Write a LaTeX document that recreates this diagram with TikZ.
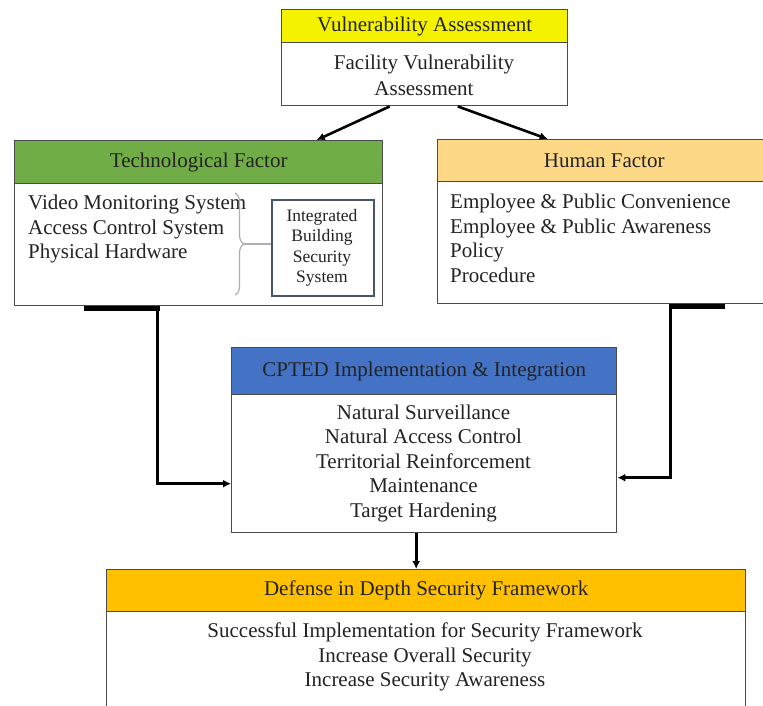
\documentclass[tikz,border=0pt]{standalone}
\usepackage{fontspec}
\setmainfont{Liberation Serif}
\usetikzlibrary{arrows.meta,decorations.pathreplacing}
\definecolor{cYellow}{RGB}{245,242,0}
\definecolor{cGreen}{RGB}{112,173,71}
\definecolor{cHuman}{RGB}{253,216,135}
\definecolor{cBlue}{RGB}{68,114,196}
\definecolor{cGold}{RGB}{255,192,0}
\definecolor{cBorder}{RGB}{75,75,75}
\definecolor{cText}{RGB}{35,35,35}
\definecolor{cIBS}{RGB}{70,85,110}
\definecolor{cBrace}{RGB}{175,175,175}
\begin{document}
\begin{tikzpicture}[x=1pt,y=-1pt,
  box/.style={draw=cBorder, line width=1.4pt, inner sep=0pt, anchor=north west},
  hdr/.style={box, font=\fontsize{21}{24.5}\selectfont, text=cText},
  txt/.style={font=\fontsize{21}{24.5}\selectfont, text=cText, inner sep=0pt},
  arr/.style={line width=2.6pt, draw=black, -{Latex[length=8pt,width=8pt]}},
  bar/.style={line width=4.5pt, draw=black},
]
\useasboundingbox (0,0) rectangle (763,705);
\fill[white] (0,0) rectangle (763,705);

% Vulnerability Assessment
\node[hdr, fill=cYellow, minimum width=286pt, minimum height=33pt] (vaH) at (281,9) {Vulnerability Assessment};
\node[box, fill=white, minimum width=286pt, minimum height=63pt] (vaB) at (281,42) {};
\node[txt, align=center, font=\fontsize{21}{26}\selectfont] (vaT) at (424,75) {Facility Vulnerability\\Assessment};

% Technological Factor
\node[hdr, fill=cGreen, minimum width=368pt, minimum height=43pt] (tfH) at (14,140) {Technological Factor};
\node[box, fill=white, minimum width=368pt, minimum height=122pt] (tfB) at (14,183) {};
\node[txt, align=left, anchor=west] (tfT) at (28,229) {Video Monitoring System\\Access Control System\\Physical Hardware};
\node[draw=cIBS, line width=1.5pt, fill=white, minimum width=102pt, minimum height=96pt, anchor=north west, inner sep=0pt] (ibs) at (271,199) {};
\node[txt, align=center, font=\fontsize{17.5}{20.5}\selectfont] (ibsT) at (322,248) {Integrated\\Building\\Security\\System};
\draw[cBrace, line width=1.2pt, decorate, decoration={brace, amplitude=9pt}] (235,193) -- (235,295);
\coordinate (braceTip) at (244,244);
\draw[cBrace, line width=1.4pt] (braceTip) -- (ibs.west |- braceTip);

% Human Factor
\node[hdr, fill=cHuman, minimum width=333pt, minimum height=42pt] (hfH) at (437,139) {Human Factor};
\node[box, fill=white, minimum width=333pt, minimum height=122pt] (hfB) at (437,181) {};
\node[txt, align=left, anchor=west] (hfT) at (450,238.5) {Employee \& Public Convenience\\Employee \& Public Awareness\\Policy\\Procedure};

% CPTED
\node[hdr, fill=cBlue, minimum width=385pt, minimum height=47pt] (cpH) at (231,347) {CPTED Implementation \& Integration};
\node[box, fill=white, minimum width=385pt, minimum height=138pt] (cpB) at (231,394) {};
\node[txt, align=center] (cpT) at (423.5,463) {Natural Surveillance\\Natural Access Control\\Territorial Reinforcement\\Maintenance\\Target Hardening};

% Defense in Depth
\node[hdr, fill=cGold, minimum width=639pt, minimum height=42pt] (dfH) at (106,569) {Defense in Depth Security Framework};
\node[box, fill=white, minimum width=639pt, minimum height=112pt] (dfB) at (106,611) {};
\node[txt, align=center] (dfT) at (425,657) {Successful Implementation for Security Framework\\Increase Overall Security\\Increase Security Awareness};

% connectors
\draw[arr] ([xshift=-35pt]vaB.south) -- ([xshift=118pt]tfH.north);
\draw[arr] ([xshift=33pt]vaB.south) -- ([xshift=-56.5pt]hfH.north);
\draw[bar] ([xshift=-115pt,yshift=-2pt]tfB.south) -- ([xshift=-39pt,yshift=-2pt]tfB.south);
\draw[arr] ([xshift=-41pt]tfB.south) |- ([yshift=-20pt]cpB.west);
\draw[bar] ([xshift=65.5pt,yshift=-2pt]hfB.south) -- ([xshift=120.5pt,yshift=-2pt]hfB.south);
\draw[arr] ([xshift=66.5pt]hfB.south) |- ([yshift=-14pt]cpB.east);
\draw[arr] ([xshift=-8pt]cpB.south) -- ([xshift=-8pt]cpB.south |- dfH.north);
\end{tikzpicture}
\end{document}
